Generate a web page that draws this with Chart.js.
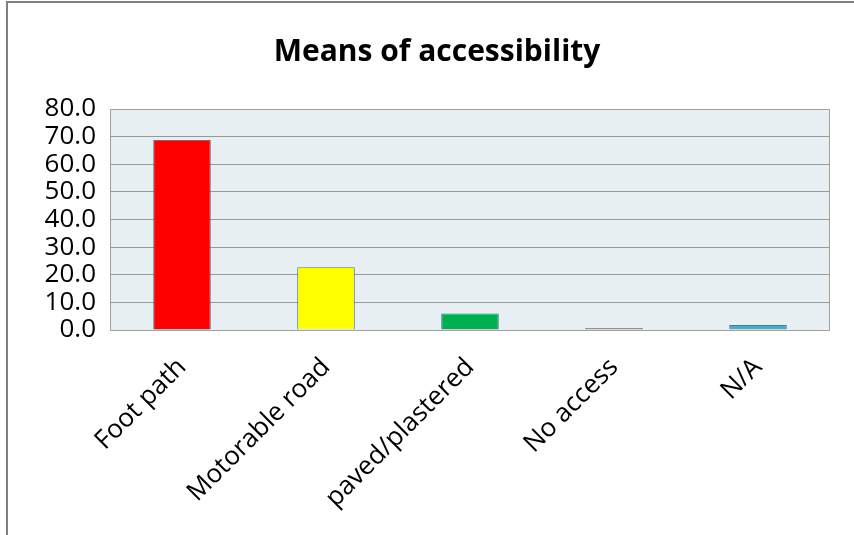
<!DOCTYPE html>
<html>
<head>
<meta charset="utf-8">
<script src="https://cdn.jsdelivr.net/npm/chart.js@4/dist/chart.umd.min.js"></script>
<style>
  html, body { margin: 0; padding: 0; background: #fff; }
  #wrap { width: 854px; height: 535px; position: relative; }
</style>
</head>
<body>
<div id="wrap"><canvas id="chart" width="854" height="535"></canvas></div>
<script>
const categories = ['Foot path', 'Motorable road', 'paved/plastered', 'No access', 'N/A'];
const values = [68.8, 22.7, 6.0, 0.7, 1.8];
const barColors = ['#ff0000', '#ffff00', '#00b050', '#d9837f', '#4bacc6'];
const yTicks = [0, 10, 20, 30, 40, 50, 60, 70, 80];

const FONT = '"Open Sans", sans-serif';

// plot background and outer frame
const framePlugin = {
  id: 'frame',
  beforeDraw(chart) {
    const { ctx, chartArea: a } = chart;
    ctx.save();
    ctx.fillStyle = '#e8eff3';
    ctx.fillRect(a.left, a.top, a.right - a.left, a.bottom - a.top);
    ctx.strokeStyle = '#808080';
    ctx.lineWidth = 2;
    ctx.beginPath();
    ctx.moveTo(7, chart.height);
    ctx.lineTo(7, 2);
    ctx.lineTo(chart.width, 2);
    ctx.stroke();
    ctx.restore();
  },
  afterDatasetsDraw(chart) {
    const { ctx, chartArea: a } = chart;
    ctx.save();
    ctx.strokeStyle = '#a0a0a0';
    ctx.lineWidth = 1;
    ctx.strokeRect(a.left + 0.5, a.top + 0.5, a.right - a.left - 1, a.bottom - a.top);
    ctx.restore();
  },
};

new Chart(document.getElementById('chart'), {
  type: 'bar',
  data: {
    labels: categories,
    datasets: [{
      data: values,
      backgroundColor: barColors,
      borderColor: '#4a7d8c',
      borderWidth: 1,
      barPercentage: 0.8,
      categoryPercentage: 0.5,
    }],
  },
  options: {
    responsive: false,
    animation: false,
    layout: { padding: { left: 20, right: 0, top: 0, bottom: 0 } },
    plugins: {
      legend: { display: false },
      tooltip: { enabled: false },
      title: {
        display: true,
        text: 'Means of accessibility',
        color: '#000',
        font: { family: FONT, size: 30, weight: 'bold' },
        padding: { top: 34, bottom: 39 },
      },
    },
    scales: {
      y: {
        min: 0,
        max: 80,
        afterBuildTicks(scale) {
          scale.ticks = yTicks.map((v) => ({ value: v }));
        },
        afterFit(scale) { scale.width = 90; },
        border: { display: false },
        grid: { color: '#999999', lineWidth: 1, drawTicks: false },
        ticks: {
          autoSkip: false,
          color: '#000',
          padding: 14,
          font: { family: FONT, size: 26 },
          callback: (v) => Number(v).toFixed(1),
        },
      },
      // empty right-hand gutter
      yRight: {
        position: 'right',
        display: true,
        afterFit(scale) { scale.width = 24; },
        border: { display: false },
        grid: { display: false },
        ticks: { display: false },
      },
      x: {
        afterFit(scale) { scale.height = 205; },
        border: { display: false },
        grid: { display: false },
        ticks: {
          color: '#000',
          minRotation: 45,
          maxRotation: 45,
          padding: 14,
          font: { family: FONT, size: 26 },
        },
      },
    },
  },
  plugins: [framePlugin],
});
</script>
</body>
</html>
